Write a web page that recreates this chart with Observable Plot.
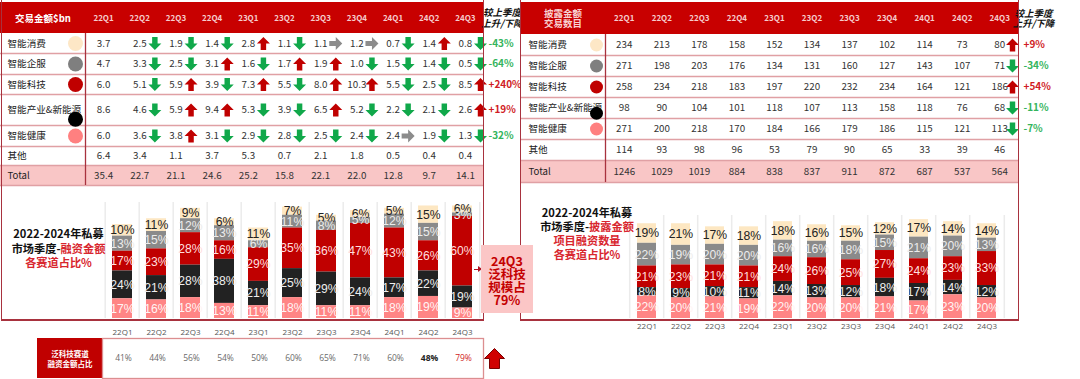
<!DOCTYPE html>
<html><head><meta charset="utf-8">
<script src="https://cdn.jsdelivr.net/npm/d3@7"></script>
<script src="https://cdn.jsdelivr.net/npm/@observablehq/plot@0.6"></script>
<style>
html,body{margin:0;padding:0;background:#fff;}
#root{position:relative;width:1080px;height:379px;overflow:hidden;background:#fff;font-family:"Noto Sans CJK SC","Noto Sans",sans-serif;}
#root svg{position:absolute;}
.ln{position:absolute;background:#a8323e;}
.ttl{position:absolute;text-align:center;font-weight:bold;font-size:11.2px;line-height:14.5px;color:#111;white-space:nowrap;}
.ttl .r{color:#d8262e;}
#callout{position:absolute;left:481px;top:245px;width:52px;height:68px;background:#fbc6c6;color:#c40000;font-weight:bold;font-size:12.5px;line-height:13px;text-align:center;box-sizing:border-box;padding-top:9px;}
</style></head>
<body><div id="root"></div>
<script>
// ---------- DATA ----------
const quarters = ["22Q1","22Q2","22Q3","22Q4","23Q1","23Q2","23Q3","23Q4","24Q1","24Q2","24Q3"];
const sectors = ["智能消费","智能企服","智能科技","智能产业&新能源","智能健康"];
const tableRows = ["智能消费","智能企服","智能科技","智能产业&新能源","智能健康","其他","Total"];

// 交易金额 $bn
const amtConsumer   = [3.7,2.5,1.9,1.4,2.8,1.1,1.1,1.2,0.7,1.4,0.8];
const amtEnterprise = [4.7,3.3,2.5,3.1,1.6,1.7,1.9,1.0,1.5,1.4,0.5];
const amtTech       = [6.0,5.1,5.9,3.9,7.3,5.5,8.0,10.3,5.5,2.5,8.5];
const amtIndustry   = [8.6,4.6,5.9,9.4,5.3,3.9,6.5,5.2,2.2,2.1,2.6];
const amtHealth     = [6.0,3.6,3.8,3.1,2.9,2.8,2.5,2.4,2.4,1.9,1.3];
const amtOther      = [6.4,3.4,1.1,3.7,5.3,0.7,2.1,1.8,0.5,0.4,0.4];
const amtTotal      = [35.4,22.7,21.1,24.6,25.2,15.8,22.1,22.0,12.8,9.7,14.1];
// arrows shown after each value: u = up, d = down, f = flat
const amtTrendConsumer   = ["","d","d","d","u","d","f","f","d","u","d"];
const amtTrendEnterprise = ["","d","d","u","d","u","u","d","d","d","d"];
const amtTrendTech       = ["","d","u","d","u","d","u","u","d","d","u"];
const amtTrendIndustry   = ["","d","u","u","d","d","u","d","d","d","u"];
const amtTrendHealth     = ["","d","u","d","d","d","d","d","f","d","d"];
const amtChange = ["-43%","-64%","+240%","+19%","-32%"];

// 披露金额交易数目
const cntConsumer   = [234,213,178,158,152,134,137,102,114,73,80];
const cntEnterprise = [271,198,203,176,134,131,160,127,143,107,71];
const cntTech       = [258,234,218,183,197,220,232,234,164,121,186];
const cntIndustry   = [98,90,104,101,118,107,113,158,118,76,68];
const cntHealth     = [271,200,218,170,184,166,179,186,115,121,113];
const cntOther      = [114,93,98,96,53,79,90,65,33,39,46];
const cntTotal      = [1246,1029,1019,884,838,837,911,872,687,537,564];
const cntChange = ["+9%","-34%","+54%","-11%","-7%"];
const cntChangeDir = ["u","d","u","d","d"];

// 融资金额各赛道占比 %
const amtShareConsumer   = [10,11,9,6,11,7,5,6,5,15,6];
const amtShareEnterprise = [13,15,12,13,6,11,8,5,12,15,3];
const amtShareTech       = [17,23,28,16,29,35,36,47,43,26,60];
const amtShareIndustry   = [24,21,28,38,21,25,29,24,17,22,19];
const amtShareHealth     = [17,16,18,13,11,18,11,11,18,19,9];

// 项目融资数量各赛道占比 %
const cntShareConsumer   = [19,21,17,18,18,16,15,12,17,14,14];
const cntShareEnterprise = [22,19,20,20,16,16,18,15,21,20,13];
const cntShareTech       = [21,23,21,21,24,26,25,27,24,23,33];
const cntShareIndustry   = [8,9,10,11,14,13,12,18,17,14,12];
const cntShareHealth     = [22,20,21,19,22,20,20,21,17,23,20];

// 泛科技赛道融资金额占比
const techShare = [41,44,56,54,50,60,65,71,60,48,79];
const techShareBold = "24Q2";
const techShareRed = "24Q3";

// ---------- STYLE ----------
const root = document.getElementById("root");
const FONT = '"Noto Sans CJK SC","Noto Sans",sans-serif';
const BARFONT = '"Liberation Sans Narrow","Liberation Sans",Arial,sans-serif';
const HEADER_RED = "#c80000";
const TOTAL_BG = "#f9c6c6";
const ROW_LINE = "#e0a0a4";
const SEP = "#a8323e";
const ARROW_FILL = {u: "#c00000", d: "#10a84a", f: "#8c8c8c"};
const TXT_RED = "#d01c24", TXT_GREEN = "#34b45c";
const SECTOR_FILL  = ["#fde7c2","#8a8a8a","#c00000","#222222","#ff8585"];
const SECTOR_DOT   = ["#fde7c6","#7f7f7f","#c00000","#000000","#ff8080"];
const SECTOR_LABEL = ["#222222","#ececec","#ffdede","#eeeeee","#fff4f4"];

function blockArrow(dir, shaft) {
  return {draw(ctx, size) {
    const r = Math.sqrt(size / Math.PI), w = r * shaft;
    let pts = [[-w,-r],[w,-r],[w,0],[r,0],[0,r],[-r,0],[-w,0]];
    if (dir === "u") pts = pts.map(([x,y]) => [x,-y]);
    if (dir === "r") pts = pts.map(([x,y]) => [y,x]);
    ctx.moveTo(pts[0][0], pts[0][1]);
    for (const p of pts.slice(1)) ctx.lineTo(p[0], p[1]);
    ctx.closePath();
  }};
}
const SYM = {u: blockArrow("u", 0.42), d: blockArrow("d", 0.42), f: blockArrow("r", 0.4)};

function place(el, left, top) {
  el.style.position = "absolute";
  el.style.left = left + "px";
  el.style.top = top + "px";
  root.appendChild(el);
  return el;
}

// ---------- TABLE ----------
function makeTable(o) {
  const n = quarters.length;
  const colEdges = [0, o.labelW];
  for (let i = 1; i <= n; i++) colEdges.push(o.labelW + i * o.colW);
  colEdges.push(o.labelW + n * o.colW + o.chgW);
  const R = n + 1;
  const cells = [];
  o.values.forEach((arr, r) => arr.forEach((v, c) => cells.push({r, c, v})));
  const arrows = o.arrows;
  return Plot.plot({
    width: colEdges[colEdges.length - 1], height: o.height, margin: 0,
    x: {type: "linear", domain: d3.range(colEdges.length), range: colEdges, axis: null},
    y: {type: "linear", domain: d3.range(o.rowEdges.length), range: o.rowEdges, axis: null},
    color: {type: "identity"},
    style: {background: "transparent", overflow: "visible", fontFamily: FONT},
    marks: [
      Plot.rect([o.header], {x1: 0, x2: R, y1: 0, y2: 1, fill: HEADER_RED}),
      Plot.rect(tableRows, {x1: 0, x2: R, y1: (d, i) => i + 1, y2: (d, i) => i + 2,
        fill: d => d === "Total" ? TOTAL_BG : "#ffffff"}),
      Plot.ruleY(tableRows, {y: (d, i) => i + 2, x1: 0, x2: R, stroke: ROW_LINE, strokeWidth: 1.3}),
      Plot.ruleX([1], {x: d => d, y1: 1, y2: tableRows.length + 1, stroke: SEP, strokeWidth: 1.3}),
      Plot.text([o.header], {x: 0.5, y: 0.5, text: d => d, fill: o.headerColor, fontSize: 9.5, fontWeight: "bold", lineHeight: 1.15}),
      Plot.text(quarters, {x: (d, i) => i + 1.5, y: 0.5, text: d => d, fill: "#f6cccc", fontSize: 8, fontWeight: "bold"}),
      Plot.text(tableRows, {x: 0, dx: o.labelDx, y: (d, i) => i + 1.5, text: d => d, textAnchor: "start", fontSize: 9.6, fill: "#222"}),
      Plot.dot(sectors, {x: 1, dx: o.dotDx, y: (d, i) => i + 1.5 + (i === 3 ? o.dotDrop : 0), r: o.dotR, fill: (d, i) => SECTOR_DOT[i]}),
      Plot.text(cells, {x: d => d.c + 1.5, dx: o.valueDx, y: d => d.r + 1.5, text: d => o.fmt(d.v), fontSize: 9.8, fill: "#333"}),
      ...["u", "d", "f"].map(t => Plot.dot(arrows.filter(a => a.t === t), {
        x: d => d.c + 2, dx: o.arrowDx, y: d => d.r + 1.5, symbol: SYM[t], r: 6.5, fill: ARROW_FILL[t]})),
      Plot.text(o.change, {x: R, dx: 5, y: (d, i) => i + 1.5, text: d => d, textAnchor: "start",
        fill: d => d.startsWith("+") ? TXT_RED : TXT_GREEN, fontSize: 10, fontWeight: "bold"}),
      Plot.text(["较上季度\n上升/下降"], {x: R + 0.5, dx: o.chgHeadDx, y: 0.5, text: d => d, fill: "#111",
        fontSize: 9.5, fontStyle: "italic", fontWeight: "bold", lineHeight: 1.15})
    ]
  });
}

function trendArrows(trends) {
  const out = [];
  trends.forEach((arr, r) => arr.forEach((t, c) => { if (t) out.push({r, c, t}); }));
  return out;
}

const leftTable = makeTable({
  header: "交易金额$bn", headerColor: "#ffffff",
  values: [amtConsumer, amtEnterprise, amtTech, amtIndustry, amtHealth, amtOther, amtTotal],
  fmt: d3.format(".1f"),
  arrows: trendArrows([amtTrendConsumer, amtTrendEnterprise, amtTrendTech, amtTrendIndustry, amtTrendHealth]),
  change: amtChange,
  labelW: 85, colW: (483 - 85) / 11, chgW: 37, height: 190,
  rowEdges: [2, 33, 53, 74, 94, 125, 146, 165, 185],
  labelDx: 7, dotDx: -10, dotR: 7.5, dotDrop: 0.3, valueDx: 0, arrowDx: -3, chgHeadDx: 0
});
place(leftTable, 0, 0);

const rightTable = makeTable({
  header: "披露金额\n交易数目", headerColor: "#f8d2d2",
  values: [cntConsumer, cntEnterprise, cntTech, cntIndustry, cntHealth, cntOther, cntTotal],
  fmt: d => String(d),
  arrows: cntChangeDir.map((t, r) => ({r, c: quarters.length - 1, t})),
  change: cntChange,
  labelW: 85, colW: (1018 - 605) / 11, chgW: 62, height: 190,
  rowEdges: [2, 34, 55, 76, 97, 118, 139, 160, 182],
  labelDx: 8, dotDx: -9, dotR: 6.5, dotDrop: 0.25, valueDx: 0, arrowDx: -6, chgHeadDx: -16
});
place(rightTable, 520, 0);

// ---------- STACKED BARS ----------
function makeBars(o) {
  const data = [];
  quarters.forEach((q, i) => sectors.forEach((s, k) => data.push({q, s, k, v: o.shares[k][i]})));
  const order = [...sectors].reverse();
  const step = (o.width - o.marginLeft - o.marginRight) / quarters.length;
  return Plot.plot({
    width: o.width, height: o.height,
    marginLeft: o.marginLeft, marginRight: o.marginRight, marginTop: o.marginTop, marginBottom: o.marginBottom,
    x: {type: "band", domain: quarters, paddingInner: o.pad, paddingOuter: o.pad / 2, tickSize: 0, tickPadding: o.tickPadding, label: null},
    y: {domain: [0, 100], axis: null},
    color: {type: "identity"},
    style: {background: "transparent", overflow: "visible", fontFamily: '"Open Sans",sans-serif', fontSize: "8px", color: "#555"},
    marks: [
      Plot.ruleX(quarters, {x: d => d, dx: -step / 2, stroke: "#ebebeb", strokeWidth: 1.5}),
      Plot.ruleX(quarters.slice(-1), {x: d => d, dx: step / 2, stroke: "#ebebeb", strokeWidth: 1.5}),
      Plot.barY(data, Plot.stackY({x: "q", y: "v", z: "s", order, fill: d => SECTOR_FILL[d.k]})),
      Plot.text(data, Plot.stackY({x: "q", y: "v", z: "s", order, text: d => d.v + "%",
        fill: d => SECTOR_LABEL[d.k], fontSize: 12.2, fontFamily: BARFONT}))
    ]
  });
}

const leftBars = makeBars({
  shares: [amtShareConsumer, amtShareEnterprise, amtShareTech, amtShareIndustry, amtShareHealth],
  width: 483, height: 145, marginLeft: 101.7, marginRight: 0.7, marginTop: 7, marginBottom: 22, pad: 0.42, tickPadding: 11
});
place(leftBars, 0, 195);

const rightBars = makeBars({
  shares: [cntShareConsumer, cntShareEnterprise, cntShareTech, cntShareIndustry, cntShareHealth],
  width: 488, height: 138, marginLeft: 106.7, marginRight: 0.7, marginTop: 15, marginBottom: 20, pad: 0.44, tickPadding: 5
});
place(rightBars, 520, 200);

// ---------- BOTTOM TABLE ----------
const bottomLabel = Plot.plot({
  width: 65, height: 40, margin: 0,
  x: {type: "band", domain: ["label"], axis: null, padding: 0},
  y: {type: "band", domain: ["row"], axis: null, padding: 0},
  style: {background: "transparent", overflow: "visible", fontFamily: FONT},
  marks: [
    Plot.cell(["label"], {x: d => d, y: () => "row", fill: "#c00000"}),
    Plot.text(["泛科技赛道\n融资金额占比"], {frameAnchor: "middle", text: d => d, fill: "#fff", fontSize: 7.5, fontWeight: "bold", lineHeight: 1.35})
  ]
});
place(bottomLabel, 37, 338);

const shareRows = quarters.map((q, i) => ({q, v: techShare[i]}));
const bottomValues = Plot.plot({
  width: 421, height: 40, marginLeft: 0, marginRight: 40, marginTop: 0, marginBottom: 0,
  x: {type: "band", domain: quarters, padding: 0, axis: null},
  color: {type: "identity"},
  style: {background: "transparent", overflow: "visible", fontFamily: '"Open Sans",sans-serif'},
  marks: [
    Plot.frame({stroke: "#dc8e90", strokeWidth: 1.3}),
    Plot.text(shareRows.filter(d => d.q !== techShareBold && d.q !== techShareRed), {x: "q", frameAnchor: "middle", text: d => d.v + "%", fill: "#6a6a6a", fontSize: 8.5}),
    Plot.text(shareRows.filter(d => d.q === techShareBold), {x: "q", frameAnchor: "middle", text: d => d.v + "%", fill: "#222", fontSize: 8.5, fontWeight: "bold"}),
    Plot.text(shareRows.filter(d => d.q === techShareRed), {x: "q", frameAnchor: "middle", text: d => d.v + "%", fill: "#d01c24", fontSize: 8.5}),
    Plot.dot(shareRows.filter(d => d.q === techShareRed), {x: "q", frameAnchor: "middle", dx: 31, symbol: blockArrow("u", 0.5), r: 10, fill: "#d00000", stroke: "#7a0000", strokeWidth: 1})
  ]
});
place(bottomValues, 102, 338);

// ---------- FRAME LINES ----------
function line(l, t, w, h) { const d = document.createElement("div"); d.className = "ln"; place(d, l, t); d.style.width = w + "px"; d.style.height = h + "px"; }
line(0.5, 0, 1.5, 321);
line(0.5, 319, 483.5, 1.5);
line(482.5, 0, 1.5, 321);
line(519.5, 0, 1.5, 321);
line(519.5, 319, 499.5, 1.5);
line(1017.5, 0, 1.5, 321);

// ---------- TITLES ----------
const t1 = document.createElement("div");
t1.className = "ttl";
t1.innerHTML = '2022-2024年私募<br>市场季度-<span class="r">融资金额</span><br><span class="r">各赛道占比%</span>';
place(t1, 0, 226); t1.style.width = "117px";

const t2 = document.createElement("div");
t2.className = "ttl";
t2.style.lineHeight = "14px";
t2.innerHTML = '2022-2024年私募<br>市场季度-<span class="r">披露金额</span><br><span class="r">项目融资数量</span><br><span class="r">各赛道占比%</span>';
place(t2, 537, 205); t2.style.width = "100px";

// ---------- CALLOUT ----------
const arrLine = document.createElement("div");
place(arrLine, 474, 268.5); arrLine.style.width = "5px"; arrLine.style.height = "1.5px"; arrLine.style.background = "#b01020";
const arrHead = document.createElement("div");
place(arrHead, 478, 266); arrHead.style.width = "0"; arrHead.style.height = "0";
arrHead.style.borderTop = "3.3px solid transparent"; arrHead.style.borderBottom = "3.3px solid transparent"; arrHead.style.borderLeft = "4px solid #b01020";
const callout = document.createElement("div");
callout.id = "callout";
callout.innerHTML = "24Q3<br>泛科技<br>规模占<br>79%";
root.appendChild(callout);
</script></body></html>
